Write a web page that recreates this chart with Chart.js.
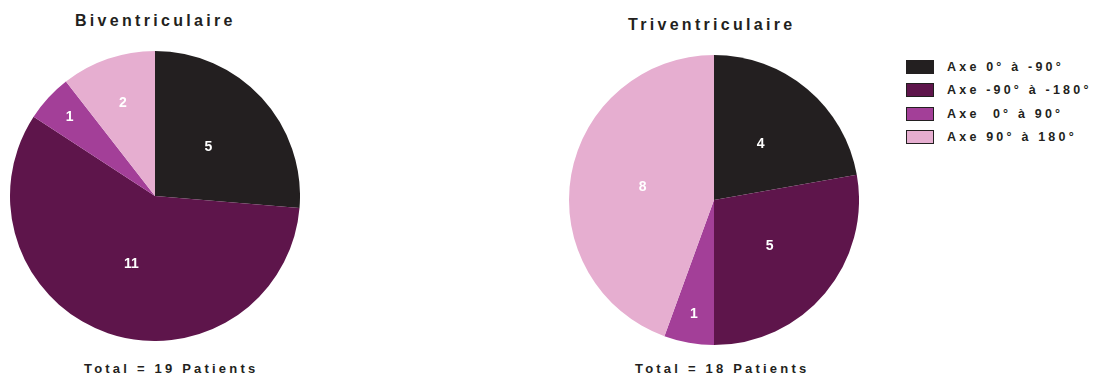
<!DOCTYPE html>
<html lang="fr">
<head>
<meta charset="utf-8">
<script src="https://cdn.jsdelivr.net/npm/chart.js@4/dist/chart.umd.min.js"></script>
<style>
    body {
        margin: 0;
        width: 1101px;
        height: 378px;
        background: #fff;
        position: relative;
        overflow: hidden;
        font-family: "Liberation Sans", Arial, sans-serif;
        color: #231f20;
    }
    .pie { position: absolute; width: 290px; height: 290px; }
    .titre {
        position: absolute;
        font-weight: bold;
        font-size: 16px;
        letter-spacing: 3.3px;
        white-space: pre;
        line-height: 1;
    }
    .total {
        position: absolute;
        font-weight: bold;
        font-size: 13px;
        letter-spacing: 3.2px;
        white-space: pre;
        line-height: 1;
    }
    #legende { position: absolute; left: 906px; top: 55px; }
    .ligne { display: flex; align-items: center; height: 23.5px; }
    .carre { width: 26px; height: 12px; border: 1.5px solid #231f20; margin-right: 13px; }
    .ligne span { font-weight: bold; font-size: 12.5px; letter-spacing: 3.2px; white-space: pre; }
</style>
</head>
<body>
<div class="titre" style="left:75px; top:13px;">Biventriculaire</div>
<div class="titre" style="left:628px; top:17px;">Triventriculaire</div>
<div class="pie" style="left:10px; top:51px;"><canvas id="biChart" width="290" height="290"></canvas></div>
<div class="pie" style="left:569px; top:55px;"><canvas id="triChart" width="290" height="290"></canvas></div>
<div class="total" style="left:84px; top:362px;">Total = 19 Patients</div>
<div class="total" style="left:635px; top:362px;">Total = 18 Patients</div>
<div id="legende"></div>

<script>
// Catégories d'axe et effectifs par groupe
const axes = ['Axe 0° à -90°', 'Axe -90° à -180°', 'Axe  0° à 90°', 'Axe 90° à 180°'];
const biventriculaire = [5, 11, 1, 2];
const triventriculaire = [4, 5, 1, 8];
const couleurs = ['#231f20', '#5e154b', '#a33f98', '#e6aed0'];

// Chiffres blancs au milieu de chaque part
const etiquettes = {
    id: 'etiquettes',
    afterDatasetsDraw(chart) {
        const ctx = chart.ctx;
        const valeurs = chart.data.datasets[0].data;
        ctx.save();
        ctx.fillStyle = '#fff';
        ctx.font = 'bold 14px "Liberation Sans", Arial, sans-serif';
        ctx.textAlign = 'center';
        ctx.textBaseline = 'middle';
        chart.getDatasetMeta(0).data.forEach(function(arc, i) {
            const p = arc.getProps(['x', 'y', 'startAngle', 'endAngle', 'outerRadius'], true);
            const angle = p.endAngle - p.startAngle;
            const milieu = p.startAngle + angle / 2;
            // les petites parts ont leur chiffre plus près du bord
            let f = 0.5;
            if (angle < Math.PI / 6) f = 0.8;
            else if (angle < Math.PI * 0.28) f = 0.68;
            const r = p.outerRadius * f;
            ctx.fillText(String(valeurs[i]), p.x + Math.cos(milieu) * r, p.y + Math.sin(milieu) * r);
        });
        ctx.restore();
    }
};

function camembert(id, valeurs) {
    return new Chart(document.getElementById(id), {
        type: 'pie',
        data: {
            labels: axes,
            datasets: [{
                data: valeurs,
                backgroundColor: couleurs,
                borderWidth: 0
            }]
        },
        options: {
            responsive: false,
            animation: false,
            layout: { padding: 0 },
            plugins: {
                legend: { display: false },
                tooltip: { enabled: false }
            }
        },
        plugins: [etiquettes]
    });
}

camembert('biChart', biventriculaire);
camembert('triChart', triventriculaire);

// Légende commune
const legende = document.getElementById('legende');
axes.forEach(function(nom, i) {
    const ligne = document.createElement('div');
    ligne.className = 'ligne';
    const carre = document.createElement('div');
    carre.className = 'carre';
    carre.style.background = couleurs[i];
    const texte = document.createElement('span');
    texte.textContent = nom;
    ligne.appendChild(carre);
    ligne.appendChild(texte);
    legende.appendChild(ligne);
});
</script>
</body>
</html>
